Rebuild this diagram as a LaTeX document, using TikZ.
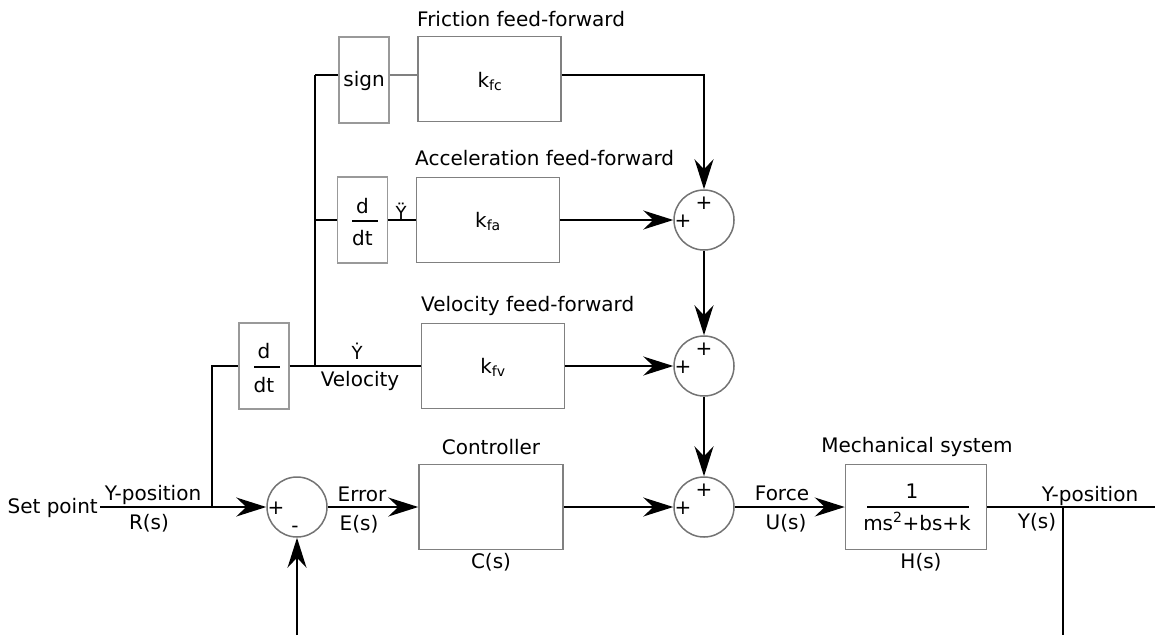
\documentclass[tikz,border=0pt]{standalone}
\usepackage{fontspec}
\setmainfont{DejaVu Sans}
\usetikzlibrary{arrows.meta}
\begin{document}
\begin{tikzpicture}[x=1pt,y=-1pt,
  conn/.style={line width=1.6pt, black},
  arr/.style={conn, -{Stealth[length=30pt,width=19pt,inset=10pt]}},
  blk/.style={draw=black!50, line width=1.5pt, rectangle, inner sep=0pt, minimum width=143pt, minimum height=85pt},
  sbox/.style={draw=black!40, line width=1.3pt, rectangle, inner sep=0pt, minimum width=50pt, minimum height=86pt},
  sumc/.style={circle, draw=black!55, line width=1.5pt, minimum size=60pt, inner sep=0pt},
  lbl/.style={anchor=base, inner sep=0pt, font=\fontsize{20}{24}\selectfont},
  sml/.style={anchor=base, inner sep=0pt, font=\fontsize{18}{22}\selectfont},
  sgn/.style={anchor=base, inner sep=0pt, font=\fontsize{20}{24}\selectfont},
  fracline/.style={line width=1.3pt, black},
  thin/.style={line width=1.3pt, black!50}
]
\useasboundingbox (0,0) rectangle (1155,635);

% coordinates
\coordinate (jtop) at (315,75);
\coordinate (jacc) at (315,220);
\coordinate (jvel) at (315,366);
\coordinate (jleft) at (212,366);
\coordinate (jmain) at (212,507);
\coordinate (fcturn) at (704,75);
\coordinate (start) at (100,507);
\coordinate (yout) at (1155,507);
\coordinate (jout) at (1063,507);
\coordinate (fbR) at (1063,635);
\coordinate (fbL) at (297,635);

% friction branch
\node[sbox] (sign) at (364,80) {};
\node[lbl] (signtxt) at (364,86) {sign};
\node[blk] (kfc) at (489.5,79) {};
\node[lbl] (kfctxt) at (490,87) {k\textsubscript{fc}};
\node[lbl, anchor=base west] (fricl) at (417,26) {Friction feed-forward};

% acceleration branch
\node[sbox] (d1) at (362.5,220) {};
\node[lbl] (d1n) at (362.5,213) {d};
\node[lbl] (d1d) at (362.5,245) {dt};
\draw[fracline] (352,221) -- (378,221);
\node[blk] (kfa) at (488,220) {};
\node[lbl] (kfatxt) at (488,227) {k\textsubscript{fa}};
\node[lbl, anchor=base west] (accl) at (415,165) {Acceleration feed-forward};
\node[sml] (yddot) at (401,219) {Ÿ};

% velocity branch
\node[sbox] (d2) at (264,366) {};
\node[lbl] (d2n) at (264,358) {d};
\node[lbl] (d2d) at (264,392) {dt};
\draw[fracline] (254,367) -- (280,367);
\node[blk] (kfv) at (493,366) {};
\node[lbl] (kfvtxt) at (493,373) {k\textsubscript{fv}};
\node[lbl, anchor=base west] (vell) at (421,311) {Velocity feed-forward};
\node[sml] (ydot) at (357,359) {Ẏ};
\node[lbl] (veltxt) at (360,386) {Velocity};

% summing junctions
\node[sumc] (sum1) at (704,220) {};
\node[sumc] (sum2) at (704,366) {};
\node[sumc] (sum3) at (704,507) {};
\node[sumc] (sum0) at (297,507) {};
\node[sgn] at (683,227.2) {+};
\node[sgn] at (704,209.2) {+};
\node[sgn] at (683,373.2) {+};
\node[sgn] at (704,355.2) {+};
\node[sgn] at (683,514.2) {+};
\node[sgn] at (704,496.2) {+};
\node[sgn] at (276,514.2) {+};
\node[lbl] at (295,532) {-};

% main path
\node[lbl, anchor=base east] (sp) at (98,513) {Set point};
\node[lbl] (ypos1) at (153,500) {Y-position};
\node[lbl] (rs) at (149,529) {R(s)};
\node[lbl] (err) at (362,501) {Error};
\node[lbl] (es) at (359,530) {E(s)};
\node[blk, minimum width=144pt] (ctrl) at (491,507) {};
\node[lbl] (ctrll) at (491,454) {Controller};
\node[lbl] (cs) at (491,568) {C(s)};
\node[lbl] (force) at (782,500) {Force};
\node[lbl] (us) at (786,529) {U(s)};
\node[blk, minimum width=141pt] (mech) at (916,507) {};
\node[lbl] (mechl) at (917,452) {Mechanical system};
\node[lbl] (one) at (912,498) {1};
\draw[fracline] (867,507) -- (969,507);
\node[lbl] (den) at (917,530) {ms\textsuperscript{2}+bs+k};
\node[lbl] (hs) at (921,568) {H(s)};
\node[lbl] (ypos2) at (1090,501) {Y-position};
\node[lbl] (ys) at (1037,528) {Y(s)};

% connectors
\draw[conn] (jtop) -- (jvel);
\draw[conn] (jtop) -- (jtop -| sign.west);
\draw[thin] (sign.east |- jtop) -- (kfc.west |- jtop);
\draw[arr] (kfc.east |- jtop) -- (fcturn) -- (sum1.north);
\draw[conn] (jacc) -- (d1.west);
\draw[conn] (d1.east) -- (kfa.west);
\draw[arr] (kfa.east) -- (sum1.west);
\draw[arr] (sum1.south) -- (sum2.north);
\draw[conn] (jmain) -- (jleft) -- (d2.west);
\draw[conn] (d2.east) -- (kfv.west);
\draw[arr] (kfv.east) -- (sum2.west);
\draw[arr] (sum2.south) -- (sum3.north);
\draw[arr] (start) -- (sum0.west);
\draw[arr] (sum0.east) -- (ctrl.west);
\draw[arr] (ctrl.east) -- (sum3.west);
\draw[arr] (sum3.east) -- (mech.west);
\draw[conn] (mech.east) -- (yout);
\draw[conn] (jout) -- (fbR);
\draw[arr] (fbL) -- (sum0.south);
\end{tikzpicture}
\end{document}
